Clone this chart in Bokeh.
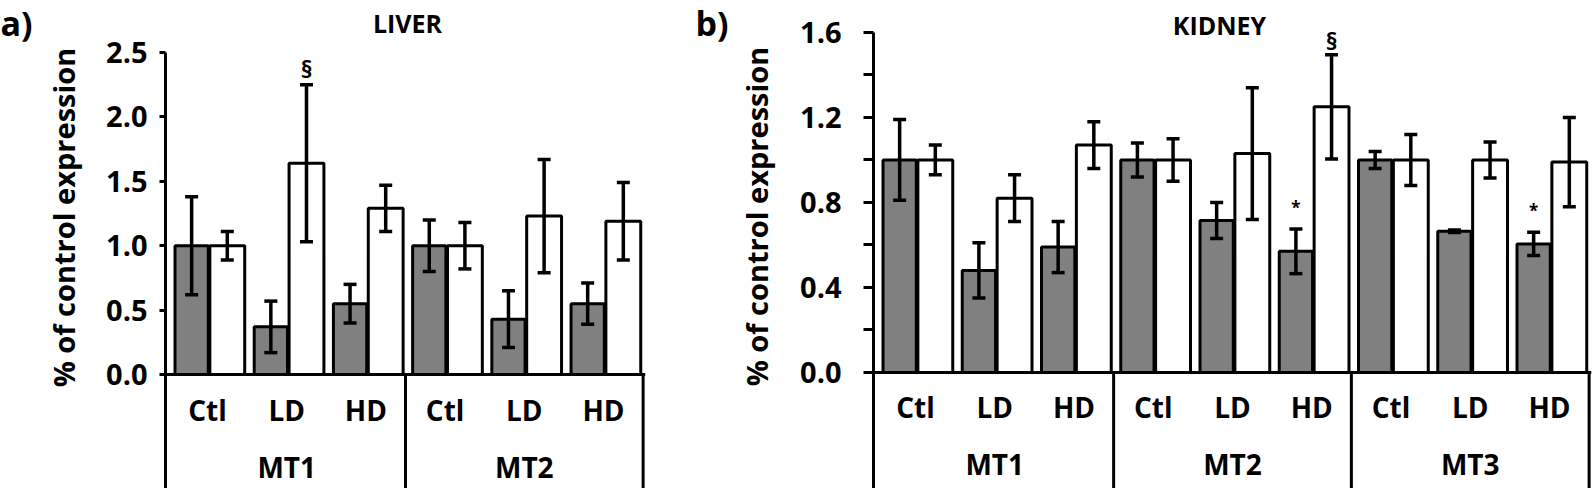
import math
from bokeh.plotting import figure
from bokeh.models import (FactorRange, Range1d, ColumnDataSource, CategoricalAxis,
                          FixedTicker, NumeralTickFormatter, Whisker, TeeHead, Label)
from bokeh.transform import dodge
from bokeh.layouts import row
from bokeh.embed import file_html
from bokeh.resources import INLINE
from bokeh.core.properties import value

FONT = "Open Sans"

# ---------------- data ----------------
doses = ["Ctl", "LD", "HD"]

# a) LIVER
liver_genes = ["MT1", "MT2"]
liver_grey = [1.00, 0.37, 0.55, 1.00, 0.43, 0.55]
liver_grey_err = [0.38, 0.20, 0.15, 0.20, 0.22, 0.16]
liver_white = [1.00, 1.64, 1.29, 1.00, 1.23, 1.19]
liver_white_err = [0.11, 0.61, 0.18, 0.18, 0.44, 0.30]
liver_grey_sig = ["", "", "", "", "", ""]
liver_white_sig = ["", "§", "", "", "", ""]
liver_yticks = [0.0, 0.5, 1.0, 1.5, 2.0, 2.5]
liver_yminor = []

# b) KIDNEY
kidney_genes = ["MT1", "MT2", "MT3"]
kidney_grey = [1.00, 0.48, 0.59, 1.00, 0.715, 0.57, 1.00, 0.665, 0.605]
kidney_grey_err = [0.19, 0.13, 0.12, 0.08, 0.085, 0.105, 0.04, 0.006, 0.055]
kidney_white = [1.00, 0.82, 1.07, 1.00, 1.03, 1.25, 1.00, 1.00, 0.99]
kidney_white_err = [0.07, 0.11, 0.11, 0.10, 0.31, 0.245, 0.12, 0.085, 0.21]
kidney_grey_sig = ["", "", "", "", "", "*", "", "", "*"]
kidney_white_sig = ["", "", "", "", "", "§", "", "", ""]
kidney_yticks = [0.0, 0.4, 0.8, 1.2, 1.6]
kidney_yminor = [0.2, 0.6, 1.0, 1.4]

y_label = "% of control expression"

GREY = "#808080"
H = 488


def side_strip(tag, width, tag_x, tag_y, lab_x, lab_y):
    """Left strip holding the panel tag and the rotated y-axis title."""
    p = figure(width=width, height=H, x_range=Range1d(0, 1), y_range=Range1d(0, 1),
               x_axis_location=None, y_axis_location=None, min_border=0,
               toolbar_location=None, output_backend="svg")
    p.outline_line_color = None
    p.grid.visible = False
    p.add_layout(Label(x=tag_x, y=tag_y, x_units="screen", y_units="screen", text=tag,
                       text_font=FONT, text_font_style="bold", text_font_size="34px",
                       text_align="left", text_baseline="alphabetic",
                       text_color="black"))
    p.add_layout(Label(x=lab_x, y=lab_y, x_units="screen", y_units="screen",
                       text=y_label, angle=math.pi / 2,
                       text_font=FONT, text_font_style="bold", text_font_size="29px",
                       text_align="center", text_baseline="middle",
                       text_color="black"))
    return p


def make_panel(genes, grey, grey_err, white, white_err, grey_sig, white_sig,
               yticks, yminor, title, width, bl, br, y_bottom, y_top,
               tick_out, tick_standoff, cat_standoff, title_x, title_y,
               sig_off, star_off):
    factors = [(g, d) for g in genes for d in doses]
    xr = FactorRange(factors=factors, group_padding=0, factor_padding=0,
                     range_padding=0.03, range_padding_units="absolute")
    yr = Range1d(y_bottom, y_top)
    p = figure(x_range=xr, y_range=yr, width=width, height=H,
               min_border_left=bl, min_border_right=br, min_border_top=0,
               min_border_bottom=0, x_axis_location=None,
               toolbar_location=None, output_backend="svg")
    p.grid.visible = False
    p.outline_line_color = None
    p.background_fill_color = "white"
    p.border_fill_color = "white"

    src = ColumnDataSource(dict(
        x=factors, grey=grey, white=white,
        grey_lo=[m - e for m, e in zip(grey, grey_err)],
        grey_hi=[m + e for m, e in zip(grey, grey_err)],
        white_lo=[m - e for m, e in zip(white, white_err)],
        white_hi=[m + e for m, e in zip(white, white_err)],
        grey_sig=grey_sig, white_sig=white_sig))

    g_off, w_off = -0.20, 0.25
    p.vbar(x=dodge("x", g_off, range=xr), top="grey", width=0.42, bottom=0,
           source=src, fill_color=GREY, line_color="black", line_width=3)
    p.vbar(x=dodge("x", w_off, range=xr), top="white", width=0.44, bottom=0,
           source=src, fill_color="white", line_color="black", line_width=3)

    for off, lo, hi in [(g_off, "grey_lo", "grey_hi"), (w_off, "white_lo", "white_hi")]:
        w = Whisker(source=src, base=dodge("x", off, range=xr), lower=lo, upper=hi,
                    line_color="black", line_width=3.5, level="annotation",
                    upper_head=TeeHead(size=13, line_color="black", line_width=3.5),
                    lower_head=TeeHead(size=13, line_color="black", line_width=3.5))
        p.add_layout(w)

    p.text(x=dodge("x", w_off, range=xr), y="white_hi", text="white_sig", source=src,
           text_align="center", text_baseline="bottom", y_offset=sig_off,
           text_font=value(FONT), text_font_style="bold", text_font_size="24px",
           text_color="black")
    p.text(x=dodge("x", g_off, range=xr), y="grey_hi", text="grey_sig", source=src,
           text_align="center", text_baseline="bottom", y_offset=star_off,
           text_font=value(FONT), text_font_style="bold", text_font_size="17px",
           text_color="black")

    # box lines below the axis (group separators and right edge)
    bx = [(g, doses[-1], 0.5) for g in genes]
    p.segment(x0=bx, y0=[0] * len(bx), x1=bx, y1=[y_bottom] * len(bx),
              line_color="black", line_width=3)

    # y axis
    ya = p.yaxis[0]
    ya.bounds = (y_bottom, yticks[-1])
    ya.ticker = FixedTicker(ticks=yticks, minor_ticks=yminor)
    ya.formatter = NumeralTickFormatter(format="0.0")
    ya.axis_line_width = 3
    ya.axis_line_color = "black"
    ya.major_tick_line_width = 3
    ya.major_tick_line_color = "black"
    ya.major_tick_out = tick_out
    ya.major_tick_in = 0
    ya.minor_tick_line_width = 3
    ya.minor_tick_line_color = "black"
    ya.minor_tick_out = tick_out
    ya.minor_tick_in = 0
    ya.major_label_standoff = tick_standoff
    ya.major_label_text_font = FONT
    ya.major_label_text_font_style = "bold"
    ya.major_label_text_font_size = "29px"
    ya.major_label_text_color = "black"

    # categorical axis inside frame at y = 0
    xa = CategoricalAxis(fixed_location=0)
    xa.axis_line_width = 3
    xa.axis_line_color = "black"
    xa.major_tick_out = 0
    xa.major_tick_in = 0
    xa.major_tick_line_color = None
    xa.separator_line_color = None
    xa.major_label_standoff = cat_standoff
    xa.major_label_text_font = FONT
    xa.major_label_text_font_style = "bold"
    xa.major_label_text_font_size = "28px"
    xa.major_label_text_color = "black"
    xa.group_text_font = FONT
    xa.group_text_font_style = "bold"
    xa.group_text_font_size = "28px"
    xa.group_text_color = "black"
    p.add_layout(xa, "below")

    # organ title
    p.add_layout(Label(x=title_x, y=title_y, x_units="screen", y_units="screen",
                       text=title, text_font=FONT, text_font_style="bold",
                       text_font_size="25px", text_align="center",
                       text_baseline="alphabetic", text_color="black"))
    return p


strip_a = side_strip("a)", 103, 0, 466, 63, 271)

pa = make_panel(liver_genes, liver_grey, liver_grey_err, liver_white, liver_white_err,
                liver_grey_sig, liver_white_sig, liver_yticks, liver_yminor,
                "LIVER", width=577, bl=62, br=35,
                y_bottom=-0.885, y_top=2.904,
                tick_out=6, tick_standoff=12, cat_standoff=16,
                title_x=242, title_y=466, sig_off=0, star_off=-10)

strip_b = side_strip("b)", 117, 15, 466, 76, 272)

pb = make_panel(kidney_genes, kidney_grey, kidney_grey_err, kidney_white, kidney_white_err,
                kidney_grey_sig, kidney_white_sig, kidney_yticks, kidney_yminor,
                "KIDNEY", width=797, bl=75, br=3,
                y_bottom=-0.546, y_top=1.7506,
                tick_out=10, tick_standoff=22, cat_standoff=16,
                title_x=346, title_y=464, sig_off=2, star_off=-10)

layout = row(strip_a, pa, strip_b, pb, spacing=0)
open("out.html", "w").write(file_html(layout, INLINE))
